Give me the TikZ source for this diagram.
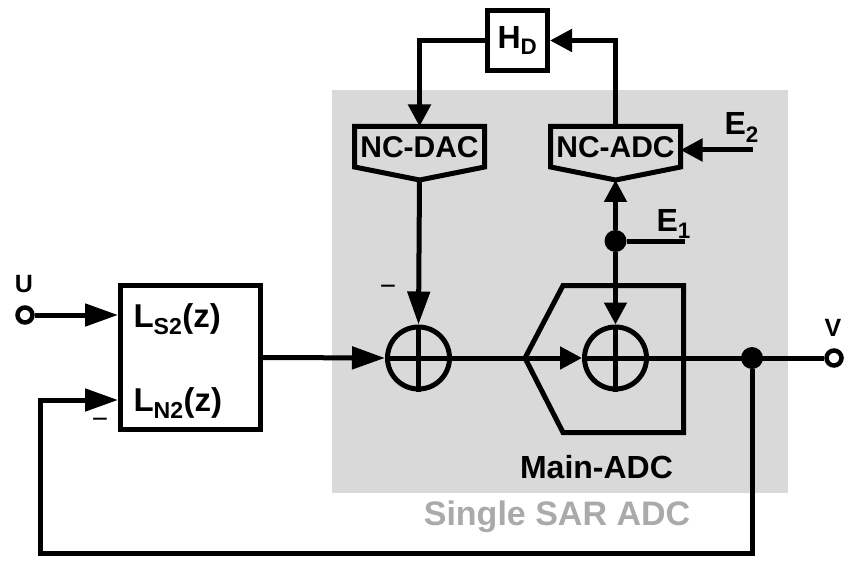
\documentclass[tikz,border=0pt]{standalone}
\usepackage{fontspec}
\setmainfont{Liberation Sans}
\usetikzlibrary{arrows.meta, positioning, calc}
\usepackage{xcolor}
\definecolor{sarfill}{RGB}{217,217,217}
\definecolor{sartext}{RGB}{170,170,170}

\begin{document}
\begin{tikzpicture}[x=1pt, y=-1pt]
  \tikzset{
    wire/.style={line width=5pt},
    bigtip/.style={-{Triangle[length=33pt, width=22pt]}},
    smalltip/.style={-{Triangle[length=22pt, width=22pt]}},
    blk/.style={
      draw,
      line width=5pt,
      fill=white,
      anchor=center,
      font=\fontsize{32}{36}\selectfont\bfseries
    },
    ncblk/.style={
      minimum width=130pt,
      minimum height=40.5pt,
      inner sep=0pt,
      outer sep=0pt,
      font=\fontsize{30}{34}\selectfont\bfseries
    },
    sumnode/.style={
      draw,
      circle,
      line width=5pt,
      minimum size=62pt,
      inner sep=0pt
    },
    term/.style={
      draw,
      circle,
      line width=4.5pt,
      fill=white,
      minimum size=15pt,
      inner sep=0pt
    },
    junction/.style={
      circle,
      fill,
      minimum size=22pt,
      inner sep=0pt
    },
    lbl/.style={font=\fontsize{32}{36}\selectfont\bfseries},
    minus/.style={font=\fontsize{28}{30}\selectfont}
  }
  \useasboundingbox (0,0) rectangle (850,561);

  % Single SAR ADC area
  \fill[sarfill] (332,90) rectangle (788,493);
  \node[font=\fontsize{34}{38}\selectfont\bfseries, text=sartext, anchor=base] (sarname) at (557,525) {Single SAR ADC};

  % loop filter
  \node[blk, minimum width=140pt, minimum height=144pt] (loopf) at (190.5,357.5) {};
  \node[lbl, font=\fontsize{33}{36}\selectfont\bfseries, anchor=base west] (ls2) at (130,327) {L\textsubscript{S2}(z)};
  \node[lbl, font=\fontsize{33}{36}\selectfont\bfseries, anchor=base west] (ln2) at (130,411) {L\textsubscript{N2}(z)};

  % input and output terminals
  \node[term] (u) at (25,315) {};
  \node[lbl, font=\fontsize{25}{28}\selectfont\bfseries] (ulabel) at (24,284) {U};
  \node[term] (v) at (834,358) {};
  \node[lbl, font=\fontsize{25}{28}\selectfont\bfseries] (vlabel) at (833,328) {V};

  % noise coupling path
  \node[blk, minimum width=60pt, minimum height=60pt, inner sep=0pt] (hd) at (517.5,40.5) {H\textsubscript{D}};
  \node[ncblk] (ncdac) at (419.5,146.75) {NC-DAC};
  \node[ncblk] (ncadc) at (615.5,146.75) {NC-ADC};
  \coordinate (dactip) at ($(ncdac.south)+(0,13)$);
  \coordinate (adctip) at ($(ncadc.south)+(0,13)$);
  \draw[wire, line join=miter] (ncdac.north west) -- (ncdac.north east) -- (ncdac.south east)
    -- (dactip) -- (ncdac.south west) -- cycle;
  \draw[wire, line join=miter] (ncadc.north west) -- (ncadc.north east) -- (ncadc.south east)
    -- (adctip) -- (ncadc.south west) -- cycle;

  % adders
  \node[sumnode] (s1) at (418.5,358) {};
  \node[sumnode] (s2) at (615.5,358) {};
  \draw[wire] (s1.north) -- (s1.south) (s1.west) -- (s1.east);
  \draw[wire] (s2.north) -- (s2.south) (s2.west) -- (s2.east);

  % main ADC
  \coordinate (hextip) at (525,358);
  \draw[wire] (hextip) -- (563,285.5) -- (683.5,285.5) -- (683.5,432.5) -- (563,432.5) -- cycle;
  \node[lbl, anchor=base] (mainadc) at (596.5,478) {Main-ADC};

  % errors
  \node[junction] (e1dot) at (615.5,241) {};
  \coordinate (e1) at (685,241);
  \node[lbl, anchor=base west] (e1label) at (653,232) {E\textsubscript{1}};
  \coordinate (e2) at (753,150);
  \node[lbl, anchor=base west] (e2label) at (721,135) {E\textsubscript{2}};

  % connections
  \draw[wire, bigtip] (u) -- (loopf.west |- u);
  \draw[wire, bigtip] (loopf.east) -- (s1.west);
  \draw[wire] (s1.east) -- (hextip);
  \draw[wire, smalltip] (hextip) -- (s2.west);
  \draw[wire] (s2.east) -- (v);
  \draw[wire, bigtip] (dactip) -- (s1.north);
  \draw[wire, smalltip] (hd.west) -| (ncdac.north);
  \draw[wire, smalltip] (ncadc.north) |- (hd.east);
  \draw[wire, smalltip] (e2) -- (e2 -| ncadc.east);
  \draw[wire] (e1dot) -- (e1);
  \draw[wire, smalltip] (e1dot) -- (adctip);
  \draw[wire, smalltip] (e1dot) -- (s2.north);

  % feedback of V
  \node[junction] (vdot) at (752,358) {};
  \coordinate (fbcorner) at (40,553);
  \coordinate (fbin) at (40,400);
  \draw[wire, bigtip] (vdot) |- (fbcorner) -- (fbin) -- (loopf.west |- fbin);

  % signs
  \node[minus] (m1) at (388,290) {−};
  \node[minus] (m2) at (100,423) {−};
\end{tikzpicture}
\end{document}
